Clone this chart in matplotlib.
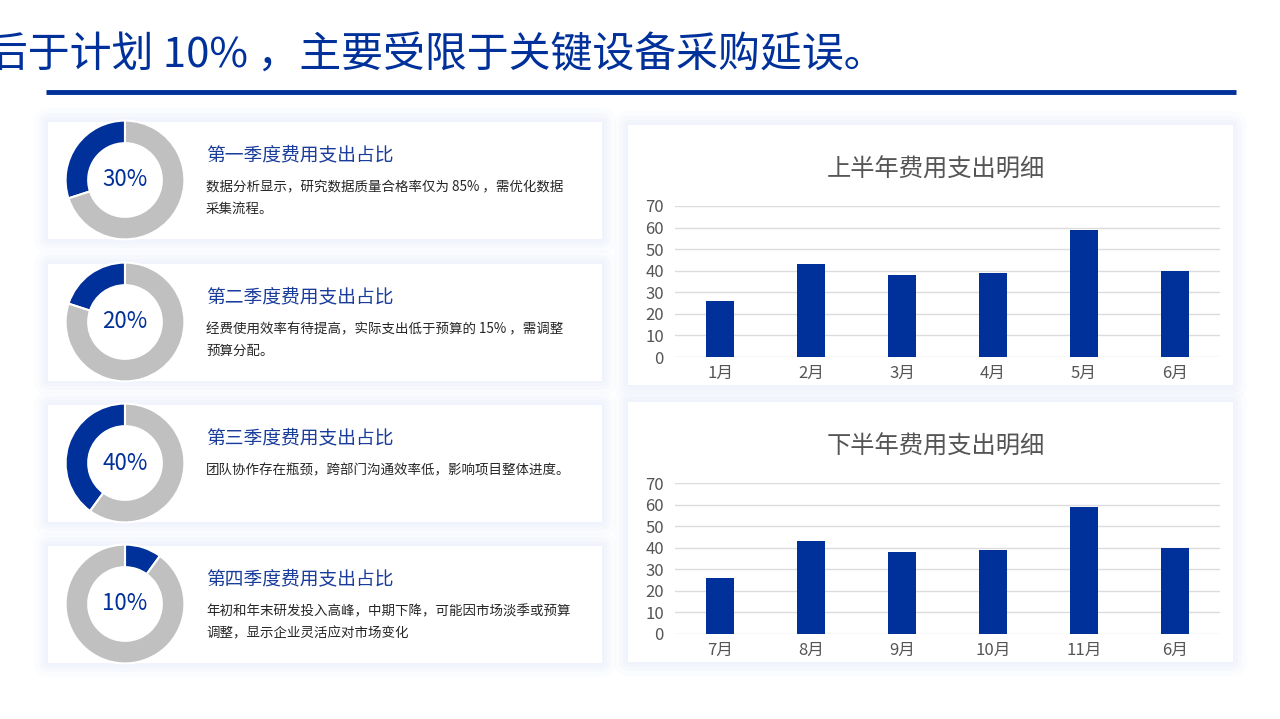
import matplotlib.pyplot as plt
from matplotlib.patches import FancyBboxPatch

plt.rcParams['font.family'] = ['Noto Sans CJK SC', 'DejaVu Sans']

# ---- data ----
quarter_titles = ['第一季度费用支出占比', '第二季度费用支出占比', '第三季度费用支出占比', '第四季度费用支出占比']
quarter_share = [30, 20, 40, 10]
quarter_notes = [
    '数据分析显示，研究数据质量合格率仅为 85% ，需优化数据\n采集流程。',
    '经费使用效率有待提高，实际支出低于预算的 15% ，需调整\n预算分配。',
    '团队协作存在瓶颈，跨部门沟通效率低，影响项目整体进度。',
    '年初和年末研发投入高峰，中期下降，可能因市场淡季或预算\n调整，显示企业灵活应对市场变化',
]
h1_months = ['1月', '2月', '3月', '4月', '5月', '6月']
h1_values = [26, 43, 38, 39, 59, 40]
h2_months = ['7月', '8月', '9月', '10月', '11月', '6月']
h2_values = [26, 43, 38, 39, 59, 40]

BLUE = '#00309a'
GREY = '#c0c0c0'
W, H = 1280, 719

fig = plt.figure(figsize=(12.8, 7.19), dpi=100)
fig.patch.set_facecolor('white')
bg = fig.add_axes([0, 0, 1, 1])
bg.set_xlim(0, W)
bg.set_ylim(H, 0)
bg.axis('off')


def px_axes(x0, y0, x1, y1):
    # pixel box (top-left origin) -> figure axes
    return fig.add_axes([x0 / W, 1 - y1 / H, (x1 - x0) / W, (y1 - y0) / H])


def card(x0, y0, x1, y1):
    # soft bluish glow, then the white card on top
    for pad, a in [(14, 0.2), (9, 0.3), (5, 0.4), (2, 0.5)]:
        bg.add_patch(FancyBboxPatch((x0 - pad, y0 - pad), x1 - x0 + 2 * pad, y1 - y0 + 2 * pad,
                                    boxstyle='round,pad=0,rounding_size=%d' % (pad + 2),
                                    fc='#eef2fb', ec='none', alpha=a, zorder=1))
    bg.add_patch(FancyBboxPatch((x0, y0), x1 - x0, y1 - y0, boxstyle='square,pad=0',
                                fc='white', ec='none', zorder=2))


# ---- heading (cut off at the left edge, as on the slide) ----
bg.text(886, 56, '落后于计划 10% ，主要受限于关键设备采购延误。', ha='right', va='center',
        fontsize=30.2, color=BLUE, zorder=5)
bg.plot([46, 1236], [92, 92], color=BLUE, lw=3.5, solid_capstyle='butt', zorder=5)

# ---- left cards with donuts ----
card_tops = [122, 264, 405, 546]
for i, top in enumerate(card_tops):
    card(48, top, 602, top + 117)
    cy = top + 58
    ax = px_axes(65, cy - 60, 185, cy + 60)
    share = quarter_share[i]
    ax.pie([share, 100 - share], colors=[BLUE, GREY], startangle=90,
           counterclock=(i != 3),
           wedgeprops=dict(width=0.38, edgecolor='white', linewidth=1.5))
    ax.set_aspect('equal')
    ax.set_xlim(-1.01, 1.01)
    ax.set_ylim(-1.01, 1.01)
    ax.text(0, 0, '%d%%' % share, ha='center', va='center', fontsize=16, color=BLUE)
    bg.text(206, top + 33, quarter_titles[i], ha='left', va='center', fontsize=13.5,
            color='#1a3d9c', zorder=5)
    bg.text(206, top + 58, quarter_notes[i], ha='left', va='top', fontsize=9.7,
            color='#262626', linespacing=1.75, zorder=5)


# ---- right cards with bar charts ----
def bar_card(top, title, months, values):
    card(628, top, 1233, top + 260)
    ax = px_axes(675, top + 81, 1220, top + 232)
    ax.bar(range(len(months)), values, width=0.31, color=BLUE, zorder=3)
    ax.set_xlim(-0.5, len(months) - 0.5)
    ax.set_ylim(0, 70)
    ax.set_yticks(range(0, 71, 10))
    ax.set_xticks(range(len(months)))
    ax.set_xticklabels(months)
    ax.tick_params(length=0, labelsize=12, labelcolor='#555555', pad=6)
    ax.tick_params(axis='y', pad=8)
    ax.grid(axis='y', color='#dcdcdc', lw=1, zorder=0)
    for s in ax.spines.values():
        s.set_visible(False)
    ax.set_facecolor('none')
    bg.text(936, top + 45, title, ha='center', va='center', fontsize=17.5, color='#555555', zorder=5)


bar_card(125, '上半年费用支出明细', h1_months, h1_values)
bar_card(402, '下半年费用支出明细', h2_months, h2_values)

fig.savefig('out.png', dpi=100, facecolor='white')
